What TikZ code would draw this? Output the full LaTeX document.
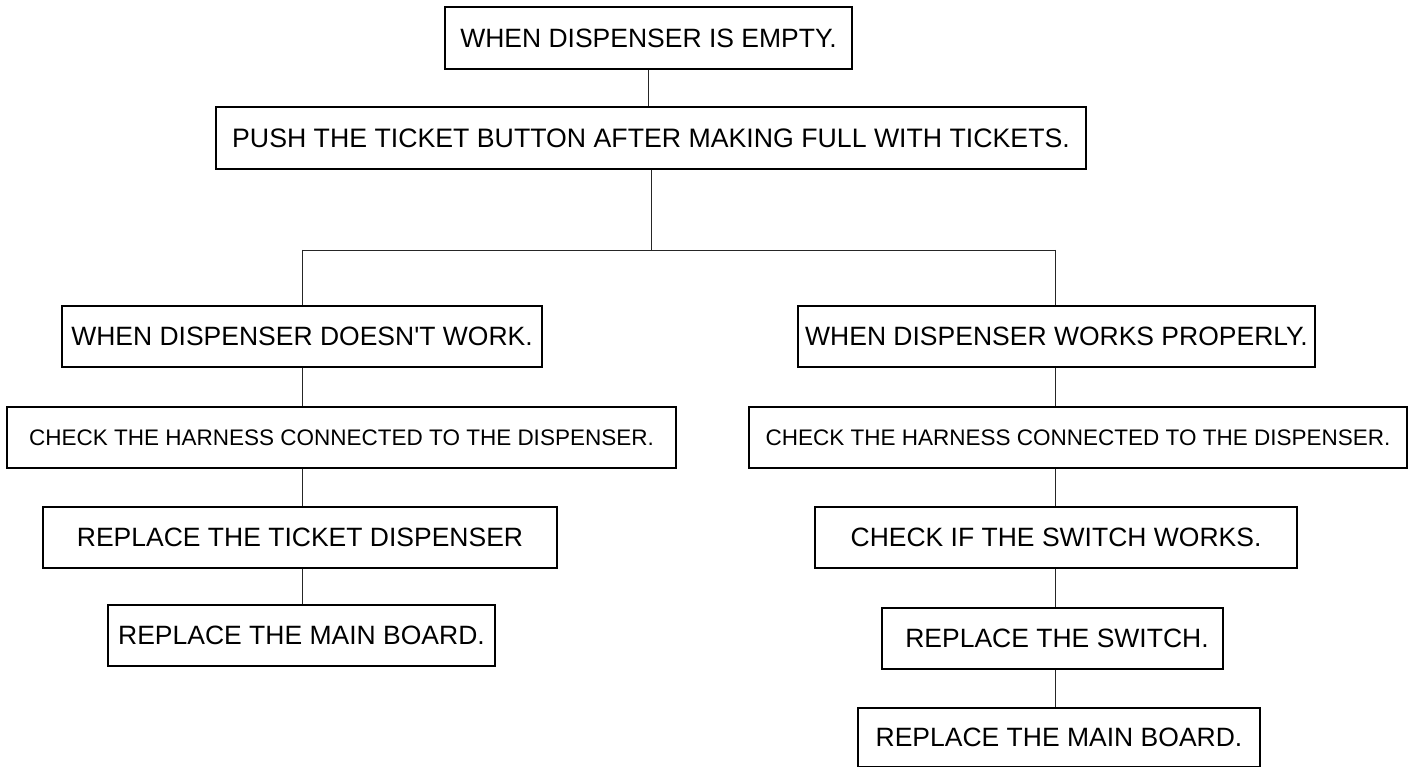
\documentclass[tikz,border=0pt]{standalone}
\usepackage{fontspec}
\setmainfont{Liberation Sans}
\begin{document}
\begin{tikzpicture}[x=1pt,y=-1pt,
  box/.style={draw=black,line width=1.2pt,rectangle,inner sep=0pt,align=center,font=\fontsize{26.5}{30}\selectfont},
  small/.style={font=\fontsize{22.5}{26}\selectfont},
  link/.style={draw=black!85,line width=0.9pt}]
\useasboundingbox (0,0) rectangle (1410,767);
\fill[white] (0,0) rectangle (1410,767);
\node[box,minimum width=407pt,minimum height=62pt] (b1) at (648.5,38) {WHEN DISPENSER IS EMPTY.};
\node[box,font=\fontsize{26.7}{30}\selectfont,minimum width=870pt,minimum height=62pt] (b2) at (651,138) {PUSH THE TICKET BUTTON AFTER MAKING FULL WITH TICKETS.};
\node[box,minimum width=480pt,minimum height=61pt] (l1) at (302,336.5) {WHEN DISPENSER DOESN\textquotesingle T WORK.};
\node[box,minimum width=517pt,minimum height=61pt] (r1) at (1056.5,336.5) {WHEN DISPENSER WORKS PROPERLY.};
\node[box,small,minimum width=669pt,minimum height=61pt] (l2) at (341.5,437.5) {CHECK THE HARNESS CONNECTED TO THE DISPENSER.};
\node[box,small,minimum width=658pt,minimum height=61pt] (r2) at (1078,437.5) {CHECK THE HARNESS CONNECTED TO THE DISPENSER.};
\node[box,minimum width=514pt,minimum height=61pt] (l3) at (300,537.5) {REPLACE THE TICKET DISPENSER};
\node[box,minimum width=482pt,minimum height=61pt] (r3) at (1056,537.5) {CHECK IF THE SWITCH WORKS.};
\node[box,minimum width=387pt,minimum height=61pt] (l4) at (301.5,635.5) {REPLACE THE MAIN BOARD.};
\node[box,minimum width=341pt,minimum height=61pt] (r4) at (1052.5,638.5) {\hspace*{9pt}REPLACE THE SWITCH.};
\node[box,minimum width=402pt,minimum height=59pt] (r5) at (1059,737.5) {REPLACE THE MAIN BOARD.};
\coordinate (split) at (651,250);
\coordinate (sl) at (302,250);
\coordinate (sr) at (1055,250);
\draw[link] (b1.south) -- (b1.south |- b2.north);
\draw[link] (b2.south) -- (split);
\draw[link] (sl) -- (sr);
\draw[link] (sl) -- (sl |- l1.north);
\draw[link] (sr) -- (sr |- r1.north);
\draw[link] (l1.south) -- (l1.south |- l2.north);
\draw[link] (l1.south |- l2.south) -- (l1.south |- l3.north);
\draw[link] (l1.south |- l3.south) -- (l1.south |- l4.north);
\draw[link] (sr |- r1.south) -- (sr |- r2.north);
\draw[link] (sr |- r2.south) -- (sr |- r3.north);
\draw[link] (sr |- r3.south) -- (sr |- r4.north);
\draw[link] (sr |- r4.south) -- (sr |- r5.north);
\end{tikzpicture}
\end{document}
